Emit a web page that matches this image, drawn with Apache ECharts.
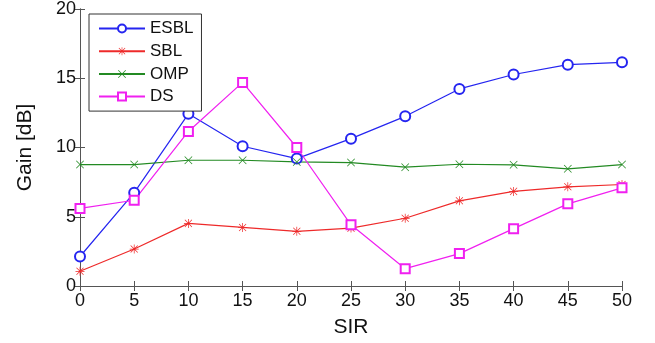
<!DOCTYPE html>
<html>
<head>
<meta charset="utf-8">
<script src="https://cdn.jsdelivr.net/npm/echarts@6/dist/echarts.min.js"></script>
<style>
  html, body { margin: 0; padding: 0; background: #fff; }
  #chart { width: 655px; height: 343px; }
</style>
</head>
<body>
<div id="chart"></div>
<script>
// SIR values on the x axis
const sir = [0, 5, 10, 15, 20, 25, 30, 35, 40, 45, 50];

// Gain [dB] per method
const esbl = [2.13, 6.74, 12.43, 10.09, 9.2, 10.64, 12.25, 14.23, 15.27, 15.98, 16.15];
const sbl = [1.06, 2.67, 4.52, 4.23, 3.95, 4.18, 4.89, 6.15, 6.83, 7.16, 7.33];
const omp = [8.77, 8.77, 9.08, 9.08, 8.96, 8.91, 8.58, 8.79, 8.75, 8.46, 8.77];
const ds = [5.6, 6.19, 11.16, 14.7, 10.0, 4.42, 1.25, 2.34, 4.14, 5.93, 7.09];

const names = ["ESBL", "SBL", "OMP", "DS"];

// marker shapes
const starPath = "path://M9.2 0H10.8V20H9.2Z M0 9.2H20V10.8H0Z M1.6 2.7L2.7 1.6L18.4 17.3L17.3 18.4Z M17.3 1.6L18.4 2.7L2.7 18.4L1.6 17.3Z";
const crossPath = "path://M1.6 2.7L2.7 1.6L18.4 17.3L17.3 18.4Z M17.3 1.6L18.4 2.7L2.7 18.4L1.6 17.3Z";

const pairs = (ys) => sir.map((x, i) => [x, ys[i]]);

const chart = echarts.init(document.getElementById("chart"));

const font = "Liberation Sans, Arial, sans-serif";
const tickFont = { color: "#111", fontSize: 18, fontFamily: font };
const axisLine = { show: true, lineStyle: { color: "#555", width: 1 } };
const axisTick = { show: true, inside: true, length: 5, lineStyle: { color: "#555" } };

chart.setOption({
  animation: false,
  grid: { left: 80, right: 33, top: 8, bottom: 53 },
  legend: {
    orient: "vertical",
    left: 89,
    top: 14,
    data: names,
    backgroundColor: "#fff",
    borderColor: "#333",
    borderWidth: 1,
    padding: [6, 8, 6, 9],
    itemWidth: 46,
    itemHeight: 10,
    itemGap: 5.7,
    itemStyle: { borderWidth: 1.1 },
    textStyle: { color: "#111", fontSize: 17, lineHeight: 16, fontFamily: font }
  },
  xAxis: [
    {
      type: "value", min: 0, max: 50, interval: 5,
      name: "SIR", nameLocation: "middle", nameGap: 31,
      nameTextStyle: { color: "#111", fontSize: 21, fontFamily: font },
      axisLine, axisTick, splitLine: { show: false },
      axisLabel: { ...tickFont, margin: 6 }
    },
    {
      type: "value", min: 0, max: 50, interval: 5, position: "top",
      axisLine, axisTick, splitLine: { show: false }, axisLabel: { show: false }
    }
  ],
  yAxis: [
    {
      type: "value", min: 0, max: 20, interval: 5,
      name: "Gain [dB]", nameLocation: "middle", nameGap: 44,
      nameTextStyle: { color: "#111", fontSize: 21, fontFamily: font },
      axisLine, axisTick, splitLine: { show: false },
      axisLabel: { ...tickFont, margin: 4 }
    },
    {
      type: "value", min: 0, max: 20, interval: 5, position: "right",
      axisLine, axisTick, splitLine: { show: false }, axisLabel: { show: false }
    }
  ],
  series: [
    {
      name: "ESBL", type: "line", data: pairs(esbl),
      symbol: "emptyCircle", symbolSize: 10,
      lineStyle: { color: "#2525f0", width: 1.2 },
      itemStyle: { color: "#2525f0", borderWidth: 1.2 }
    },
    {
      name: "SBL", type: "line", data: pairs(sbl),
      symbol: starPath, symbolSize: 9,
      lineStyle: { color: "#ee2a2a", width: 1.2 },
      itemStyle: { color: "#ee2a2a" }
    },
    {
      name: "OMP", type: "line", data: pairs(omp),
      symbol: crossPath, symbolSize: 8,
      lineStyle: { color: "#238a23", width: 1.2 },
      itemStyle: { color: "#238a23" }
    },
    {
      name: "DS", type: "line", data: pairs(ds),
      symbol: "emptyRect", symbolSize: 9,
      lineStyle: { color: "#f020f0", width: 1.2 },
      itemStyle: { color: "#f020f0", borderWidth: 1.2 }
    }
  ]
});
</script>
</body>
</html>
